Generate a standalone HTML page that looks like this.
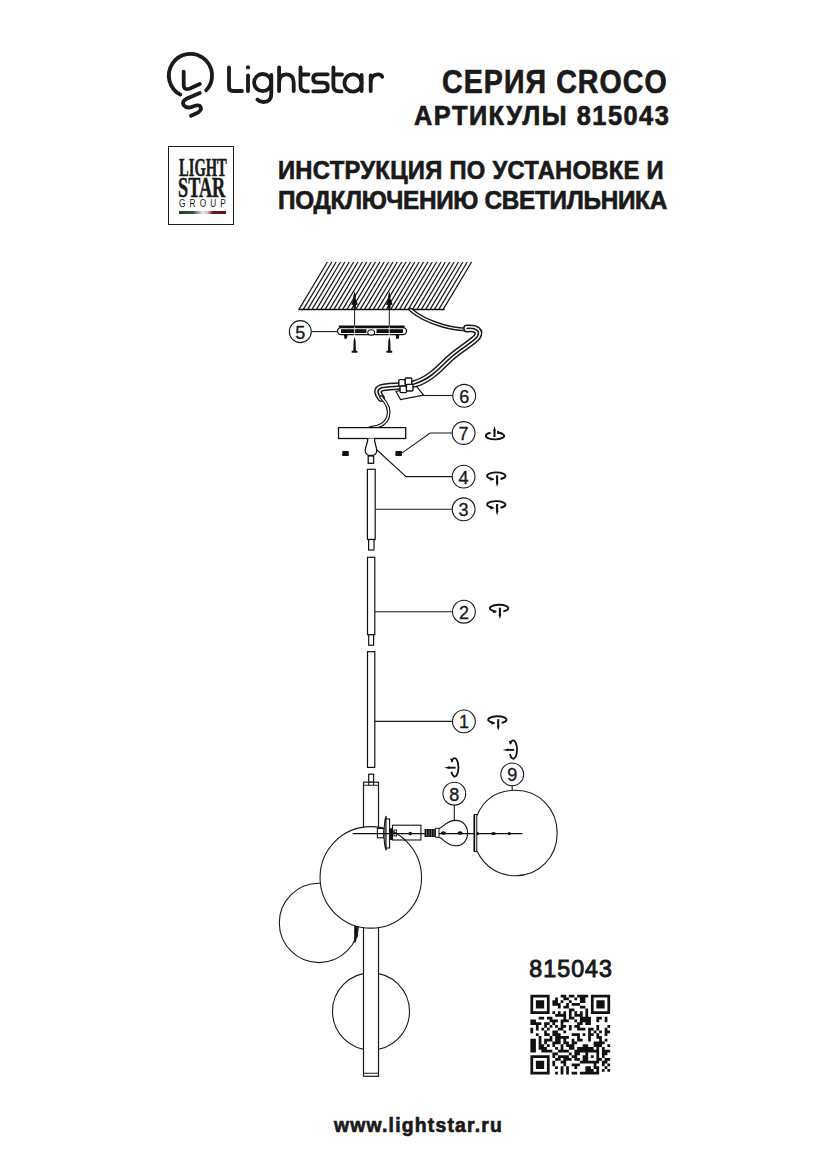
<!DOCTYPE html>
<html><head><meta charset="utf-8">
<style>
html,body{margin:0;padding:0;background:#fff;}
body{width:826px;height:1169px;position:relative;overflow:hidden;font-family:"Liberation Sans",sans-serif;color:#1a1a1a;}
.t{position:absolute;white-space:nowrap;font-weight:bold;line-height:1;transform-origin:0 0;-webkit-text-stroke:0.7px #1a1a1a;}
#group{-webkit-text-stroke:0;}#light,#star{-webkit-text-stroke:0.5px #1a1a1a;}
#h1{left:442.4px;top:66.2px;font-size:32.9px;letter-spacing:1.24px;transform:scaleX(0.868);}
#h2{left:413.7px;top:103px;font-size:26.96px;letter-spacing:1.63px;transform:scaleX(0.939);}
#h3{left:278.4px;top:157.4px;font-size:26.67px;letter-spacing:0.31px;transform:scaleX(0.892);}
#h4{left:278.4px;top:186.8px;font-size:26.52px;letter-spacing:-0.33px;transform:scaleX(0.917);}
#code{left:529.3px;top:957.6px;font-size:23.2px;letter-spacing:1.05px;-webkit-text-stroke:1px #1a1a1a !important;}
#url{left:333.5px;top:1114.5px;font-size:20.41px;letter-spacing:1.27px;transform:scaleX(0.948);}
svg{position:absolute;left:0;top:0;}
#light{left:178.7px;top:154.5px;font-size:25.15px;transform:scaleX(0.58);font-family:"Liberation Serif",serif;}
#star{left:178.1px;top:172.6px;font-size:29.41px;transform:scaleX(0.62);font-family:"Liberation Serif",serif;}
#group{left:178.6px;top:198.5px;font-size:10px;font-weight:normal;letter-spacing:0.5em;transform:scaleX(0.827);}
#box{position:absolute;left:167.8px;top:145.8px;width:66.4px;height:78.8px;border:1.2px solid #1a1a1a;box-sizing:border-box;}
#flag{position:absolute;left:179px;top:211px;width:47px;height:2.8px;background:linear-gradient(90deg,#1d4026 0%,#2e5a36 30%,#e8e8e8 50%,#e0c8c8 60%,#6e1820 72%,#5a1018 100%);}

</style></head><body>
<div class="t" id="h1">СЕРИЯ CROCO</div>
<div class="t" id="h2">АРТИКУЛЫ 815043</div>
<div class="t" id="h3">ИНСТРУКЦИЯ ПО УСТАНОВКЕ И</div>
<div class="t" id="h4">ПОДКЛЮЧЕНИЮ СВЕТИЛЬНИКА</div>
<div id="box"></div>
<div class="t" id="light">LIGHT</div>
<div class="t" id="star">STAR</div>
<div class="t" id="group">GROUP</div>
<div id="flag"></div>
<div class="t" id="code" style="font-weight:normal">815043</div>
<div class="t" id="url">www.lightstar.ru</div>
<svg width="826" height="1169" viewBox="0 0 826 1169">
<!-- logo -->
<g fill="none" stroke="#1a1a1a" stroke-width="3.8" stroke-linecap="round" stroke-linejoin="round">
<path d="M180.3 94.6A21.6 21.6 0 1 1 206.2 90.3"/>
<path d="M183.7 71.7V84.5Q183.7 91 190 88.5L199.8 84"/>
<path d="M199.8 92.9L187 98.5Q181 101.5 184 105.5Q187 109 193 106.5L196 105.5Q201 104.5 201 109Q200 112 196 113.5L191 115.8"/>
<!-- Lightstar -->
<path d="M229 67.5V87Q229 91 233 91H241.9"/>
<path d="M248 75.5V91"/>
<circle cx="248" cy="67.4" r="2.1" fill="#1a1a1a" stroke="none"/>
<circle cx="262.7" cy="82.6" r="8.6"/>
<path d="M271.3 75V94Q271.3 102 263.5 102Q259.5 102 257.4 99.6"/>
<path d="M279.1 67.5V91M279.1 83Q279.1 74.3 286.4 74.3Q293.7 74.3 293.7 83V91"/>
<path d="M300.5 67.5V86Q300.5 91.3 306 91.3H308M300.5 74.5H308.5"/>
<path d="M327.8 74.3H317.5Q313.2 74.3 313.2 78.2Q313.2 82.6 317.5 82.6H323.5Q327.8 82.6 327.8 87Q327.8 91.3 323.5 91.3H313.2"/>
<path d="M333.4 67.5V86Q333.4 91.3 339 91.3H341.5M333.4 74.5H342"/>
<circle cx="353" cy="83" r="8.6"/>
<path d="M361.6 75V91"/>
<path d="M370.7 75.5V91M370.7 83Q370.7 74.3 378 74.3Q381.5 74.3 382.2 76.8"/>
</g>
<!-- ceiling -->
<g fill="none" stroke="#1a1a1a" stroke-width="1.25">
<path d="M327.40 262L299.00 309.4M331.77 262L303.37 309.4M336.14 262L307.74 309.4M340.51 262L312.11 309.4M344.88 262L316.48 309.4M349.25 262L320.85 309.4M353.62 262L325.22 309.4M357.99 262L329.59 309.4M362.36 262L333.96 309.4M366.73 262L338.33 309.4M371.10 262L342.70 309.4M375.47 262L347.07 309.4M379.84 262L351.44 309.4M384.21 262L355.81 309.4M388.58 262L360.18 309.4M392.95 262L364.55 309.4M397.32 262L368.92 309.4M401.69 262L373.29 309.4M406.06 262L377.66 309.4M410.43 262L382.03 309.4M414.80 262L386.40 309.4M419.17 262L390.77 309.4M423.54 262L395.14 309.4M427.91 262L399.51 309.4M432.28 262L403.88 309.4M436.65 262L408.25 309.4M441.02 262L412.62 309.4M445.39 262L416.99 309.4M449.76 262L421.36 309.4M454.13 262L425.73 309.4M458.50 262L430.10 309.4M462.87 262L434.47 309.4M467.24 262L438.84 309.4M471.61 262L443.21 309.4"/>
</g>
<path d="M298.4 309.4H444.6" stroke="#111" stroke-width="1.5"/>

<!-- anchors -->
<g fill="#111">
<path id="anc" d="M354.6 291.3L355.9 296.5L355.7 299L358 304.6L356.1 305L355.6 309H353.6L353.1 305L351.2 304.6L353.5 299L353.3 296.5Z"/>
<use href="#anc" transform="translate(34.7 0)"/>
</g>
<g stroke="#1a1a1a" stroke-width="1" fill="none">
<path d="M354.6 309V325M389.3 309V325"/>
</g>
<!-- bracket -->
<rect x="338.8" y="325.5" width="65.8" height="1.9" fill="#111"/>
<rect x="337.5" y="327.6" width="69" height="7" rx="3.5" fill="#fff" stroke="#111" stroke-width="1.3"/>
<g fill="#111">
<rect x="341" y="329.2" width="25.5" height="3.8"/>
<rect x="376.5" y="329.2" width="26.5" height="3.8"/>
<path d="M343.8 334.5H347.6L347 338.5L344.5 339Z"/>
<path d="M395.6 334.5H399.4L398.8 338.5L396.3 339Z"/>
<path id="scw" d="M354.6 336.5L355.6 341L355.9 350.8H357.5V352.8H351.7V350.8H353.3L353.6 341Z"/>
<use href="#scw" transform="translate(34.7 0)"/>
</g>
<path d="M354.6 327V336M389.3 327V336" stroke="#fff" stroke-width="0.8"/>
<ellipse cx="371.2" cy="332.4" rx="3.4" ry="2.7" fill="#fff" stroke="#111" stroke-width="1.1"/>
<!-- cable -->
<g fill="none" stroke-linecap="round" stroke-linejoin="round">
<path id="c1" d="M410.8 309.8C420 318 430 322 442 325.5C452 328.5 462 329.5 469 329.5" stroke="#1a1a1a" stroke-width="4.2"/>
<path d="M410.8 309.8C420 318 430 322 442 325.5C452 328.5 462 329.5 469 329.5" stroke="#fff" stroke-width="1.3"/>
<path d="M467 328.5C476 327.5 481 331 477 337C472 343 458 350 447 361C437 371 428 380 414 384C402 387 388 386 381 388C376 390 378 394 381 398" stroke="#1a1a1a" stroke-width="7.8"/>
<path d="M467 328.5C476 327.5 481 331 477 337C472 343 458 350 447 361C437 371 428 380 414 384C402 387 388 386 381 388C376 390 378 394 381 398" stroke="#fff" stroke-width="4.8"/>
<path d="M467 328.5C476 327.5 481 331 477 337C472 343 458 350 447 361C437 371 428 380 414 384C402 387 388 386 381 388C376 390 378 394 381 398" stroke="#1a1a1a" stroke-width="1.6"/>
<path d="M381 397C388 404 390 411 388 417C386 423 380 427 370.5 427.8" stroke="#1a1a1a" stroke-width="3.8"/>
<path d="M381 397C388 404 390 411 388 417C386 423 380 427 370.5 427.8" stroke="#fff" stroke-width="1.3"/>
</g>
<!-- connector 6 -->
<path d="M396 391.5L416.5 386.4L423.6 395L400.5 399.5Z" fill="#fff" stroke="#111" stroke-width="1.2"/>
<g fill="#fff" stroke="#111" stroke-width="1.4">
<rect x="398.8" y="379.6" width="6.6" height="6.6" rx="1"/>
<rect x="405.2" y="378" width="6.6" height="6.6" rx="1"/>
<rect x="400" y="386" width="6.6" height="6.6" rx="1"/>
<rect x="406.4" y="384.4" width="6.6" height="6.6" rx="1"/>
</g>
<!-- canopy -->
<g fill="#fff" stroke="#111" stroke-width="1.3">
<rect x="338.5" y="427.6" width="67.2" height="10.9"/>
<path d="M367.8 438.5C368 443 365 447 365.2 451C365.5 454 368 455.5 371 455.5C374 455.5 376.5 454 376.7 451C377 447 374.2 443 374.5 438.5"/>
<rect x="368.2" y="456" width="5.4" height="7.3"/>
</g>
<g fill="#111">
<rect x="342.2" y="451" width="6.6" height="5" rx="0.8"/>
<rect x="395.4" y="451" width="6.6" height="5" rx="0.8"/>
</g>
<!-- leaders and circles -->
<g fill="none" stroke="#1a1a1a" stroke-width="1.1">
<path d="M311.3 331.6H337.6"/>
<path d="M423.6 395.5H452.7"/>
<path d="M401 453.6L430.2 433H452.2"/>
<path d="M377 450L406 476.6H452.2"/>
<path d="M375.2 509.3H452.2"/>
<path d="M374.8 611.7H452.5"/>
<path d="M374.8 721.4H452.5"/>
<path d="M454.3 805.1V820"/>
<path d="M512.2 785.8V790.5"/>
<circle cx="300.3" cy="331.6" r="11"/>
<circle cx="464.2" cy="395.8" r="11.4"/>
<circle cx="463.6" cy="433" r="11.4"/>
<circle cx="463.6" cy="476.6" r="11.4"/>
<circle cx="463.6" cy="509.3" r="11.4"/>
<circle cx="463.9" cy="611.7" r="11.4"/>
<circle cx="463.9" cy="721.4" r="11.4"/>
<circle cx="454.3" cy="793.7" r="11.4"/>
<circle cx="512.2" cy="774.4" r="11.4"/>
</g>
<g font-family="Liberation Sans" font-size="18" fill="#1a1a1a" stroke="#1a1a1a" stroke-width="0.35" text-anchor="middle">
<text x="300.3" y="338.65">5</text>
<text x="464.2" y="402.85">6</text>
<text x="463.6" y="440.05">7</text>
<text x="463.6" y="483.65">4</text>
<text x="463.6" y="516.35">3</text>
<text x="463.9" y="618.75">2</text>
<text x="463.9" y="728.45">1</text>
<text x="454.3" y="800.75">8</text>
<text x="512.2" y="781.45">9</text>
</g>
<!-- tubes -->
<g fill="#fff" stroke="#111" stroke-width="1.2">
<rect x="367.4" y="469.3" width="7.8" height="70.2"/>
<rect x="368.6" y="539.5" width="5.4" height="10.5"/>
<rect x="367.5" y="557.3" width="7.3" height="77.4"/>
<rect x="368.7" y="634.7" width="4.9" height="10.5"/>
<rect x="367.5" y="651.7" width="7.3" height="115.7"/>
<rect x="368.7" y="774.2" width="4.9" height="8"/>
</g>
<!-- lower globes -->
<g fill="#fff" stroke="#1a1a1a" stroke-width="1.1">
<circle cx="319" cy="922.9" r="39.7"/>
<circle cx="371" cy="1011.4" r="38.5"/>
<rect x="363.5" y="782.2" width="15" height="294.1" stroke-width="1.2"/>
<path d="M363.5 785.3H378.5M363.5 1073.3H378.5" stroke-width="1.1"/>
<path d="M368.7 782.2V785.3M373.6 782.2V785.3" stroke-width="1.1"/>
<circle cx="370.8" cy="877.4" r="50.75"/>
</g>
<path d="M354.2 926H357.8V936.5L356.6 938.5L356 941.5Q355 943.5 353.8 942L354.2 937Z" fill="#111"/>
<!-- axis parts -->
<g fill="#fff" stroke="#111" stroke-width="1.1">
<rect x="377.4" y="828.4" width="6.4" height="9.4"/>
<path d="M386.2 816C383.5 822 383.2 844 386.2 850.2Z"/>
<rect x="386" y="819" width="3.6" height="29"/>
</g>
<rect x="392.5" y="825.2" width="28.4" height="14.8" fill="none" stroke="#111" stroke-width="1.1"/>
<path d="M352.7 833.6H522.5" stroke="#111" stroke-width="1.1"/>
<g fill="#111">
<rect x="389" y="828.3" width="3.5" height="11.7"/>
<rect x="424.5" y="829" width="11" height="8"/>
<circle cx="410.3" cy="833.6" r="1.8"/>
<circle cx="401.9" cy="833.6" r="0.8"/>
<ellipse cx="443.4" cy="833" rx="2.6" ry="1.7"/>
<ellipse cx="460.1" cy="833" rx="2.6" ry="1.7"/>
<circle cx="477.5" cy="833.6" r="1.6"/>
<ellipse cx="493.5" cy="833.6" rx="2.4" ry="1.6"/>
<circle cx="509.3" cy="833.6" r="1.6"/>
</g>
<path d="M426.5 829.5V836.5M429 829.5V836.5M431.5 829.5V836.5M434 829.5V836.5" stroke="#888" stroke-width="0.7"/>
<rect x="394" y="830" width="2.6" height="6" fill="none" stroke="#111" stroke-width="0.9"/>
<path d="M435.4 828.3H439V837.3H435.4Z" fill="#fff" stroke="#111" stroke-width="1"/>
<path d="M439 828.5C444 827 446 820.4 456 820.4C463 820.4 467.6 826 467.6 833C467.6 840 463 845.8 456 845.8C446 845.8 444 838.5 439 837.3" fill="none" stroke="#111" stroke-width="1.1"/>
<rect x="474.2" y="814.5" width="2.6" height="37.1" fill="#fff" stroke="#111" stroke-width="1"/>
<path d="M474.4 815V851" stroke="#111" stroke-width="1.6"/>
<path d="M477 815.5C485 797 500 790.3 515.5 790.3C539 790.3 557.2 809 557.2 833C557.2 857 539 875.8 515.5 875.8C500 875.8 485 868 477 851" fill="none" stroke="#1a1a1a" stroke-width="1.1"/>
<!-- icons -->
<defs>
<g id="scr">
<path d="M4 3.1A9.2 3.5 0 1 0 -3.2 3.3" fill="none" stroke="#111" stroke-width="1.9"/>
<path d="M-6.5 1.2L-2.2 3.5L-6.2 4.9Z" fill="#111"/>
<path d="M0.6 -0.6V7.5" stroke="#111" stroke-width="2.1"/>
<path d="M-0.7 6.5L0.6 11L1.9 6.5Z" fill="#111"/>
</g>
<g id="side">
<path d="M-3 -5.4A3.8 9.2 0 1 1 -3.3 4.6" fill="none" stroke="#111" stroke-width="1.8"/>
<path d="M-4.6 -8.6L-2.8 -4.4L-1.2 -8Z" fill="#111"/>
<path d="M1 0.5H-6" stroke="#111" stroke-width="1.9"/>
<path d="M-5 -0.9L-10.5 0.5L-5 1.9Z" fill="#111"/>
</g>
</defs>
<use href="#scr" transform="translate(496.5 475.9)"/>
<use href="#scr" transform="translate(496.5 504.6)"/>
<use href="#scr" transform="translate(499.3 608.3)"/>
<use href="#scr" transform="translate(497.6 719.8)"/>
<g transform="translate(495.5 435.8)">
<path d="M-4.9 -3A9.2 3.5 0 1 0 2 -3.3" fill="none" stroke="#111" stroke-width="1.9"/>
<path d="M1.5 -5.3L6.2 -3.1L2 -1.7Z" fill="#111"/>
<path d="M-1 1.2V-6" stroke="#111" stroke-width="2.1"/>
<path d="M-2.3 -5L-1 -10L0.3 -5Z" fill="#111"/>
</g>
<use href="#side" transform="translate(454.6 767.2)"/>
<use href="#side" transform="translate(513.2 749.4)"/>
<!-- QR -->
<path fill="#111" d="M530.40 994.70h19.25v2.75h-19.25zM560.65 994.70h5.50v2.75h-5.50zM568.90 994.70h5.50v2.75h-5.50zM577.15 994.70h11.00v2.75h-11.00zM590.90 994.70h19.25v2.75h-19.25zM530.40 997.45h2.75v2.75h-2.75zM546.90 997.45h2.75v2.75h-2.75zM555.15 997.45h2.75v2.75h-2.75zM563.40 997.45h5.50v2.75h-5.50zM574.40 997.45h2.75v2.75h-2.75zM579.90 997.45h5.50v2.75h-5.50zM590.90 997.45h2.75v2.75h-2.75zM607.40 997.45h2.75v2.75h-2.75zM530.40 1000.20h2.75v2.75h-2.75zM535.90 1000.20h8.25v2.75h-8.25zM546.90 1000.20h2.75v2.75h-2.75zM552.40 1000.20h5.50v2.75h-5.50zM560.65 1000.20h2.75v2.75h-2.75zM568.90 1000.20h2.75v2.75h-2.75zM579.90 1000.20h5.50v2.75h-5.50zM590.90 1000.20h2.75v2.75h-2.75zM596.40 1000.20h8.25v2.75h-8.25zM607.40 1000.20h2.75v2.75h-2.75zM530.40 1002.95h2.75v2.75h-2.75zM535.90 1002.95h8.25v2.75h-8.25zM546.90 1002.95h2.75v2.75h-2.75zM552.40 1002.95h8.25v2.75h-8.25zM566.15 1002.95h2.75v2.75h-2.75zM571.65 1002.95h8.25v2.75h-8.25zM590.90 1002.95h2.75v2.75h-2.75zM596.40 1002.95h8.25v2.75h-8.25zM607.40 1002.95h2.75v2.75h-2.75zM530.40 1005.70h2.75v2.75h-2.75zM535.90 1005.70h8.25v2.75h-8.25zM546.90 1005.70h2.75v2.75h-2.75zM557.90 1005.70h2.75v2.75h-2.75zM563.40 1005.70h5.50v2.75h-5.50zM579.90 1005.70h5.50v2.75h-5.50zM590.90 1005.70h2.75v2.75h-2.75zM596.40 1005.70h8.25v2.75h-8.25zM607.40 1005.70h2.75v2.75h-2.75zM530.40 1008.45h2.75v2.75h-2.75zM546.90 1008.45h2.75v2.75h-2.75zM568.90 1008.45h5.50v2.75h-5.50zM585.40 1008.45h2.75v2.75h-2.75zM590.90 1008.45h2.75v2.75h-2.75zM607.40 1008.45h2.75v2.75h-2.75zM530.40 1011.20h19.25v2.75h-19.25zM552.40 1011.20h2.75v2.75h-2.75zM557.90 1011.20h2.75v2.75h-2.75zM563.40 1011.20h2.75v2.75h-2.75zM568.90 1011.20h2.75v2.75h-2.75zM574.40 1011.20h2.75v2.75h-2.75zM579.90 1011.20h2.75v2.75h-2.75zM585.40 1011.20h2.75v2.75h-2.75zM590.90 1011.20h19.25v2.75h-19.25zM555.15 1013.95h11.00v2.75h-11.00zM568.90 1013.95h2.75v2.75h-2.75zM574.40 1013.95h8.25v2.75h-8.25zM585.40 1013.95h2.75v2.75h-2.75zM538.65 1016.70h5.50v2.75h-5.50zM546.90 1016.70h5.50v2.75h-5.50zM563.40 1016.70h2.75v2.75h-2.75zM568.90 1016.70h5.50v2.75h-5.50zM579.90 1016.70h11.00v2.75h-11.00zM596.40 1016.70h5.50v2.75h-5.50zM604.65 1016.70h2.75v2.75h-2.75zM530.40 1019.45h5.50v2.75h-5.50zM549.65 1019.45h8.25v2.75h-8.25zM560.65 1019.45h8.25v2.75h-8.25zM574.40 1019.45h2.75v2.75h-2.75zM579.90 1019.45h11.00v2.75h-11.00zM596.40 1019.45h2.75v2.75h-2.75zM604.65 1019.45h2.75v2.75h-2.75zM530.40 1022.20h11.00v2.75h-11.00zM544.15 1022.20h5.50v2.75h-5.50zM552.40 1022.20h2.75v2.75h-2.75zM560.65 1022.20h2.75v2.75h-2.75zM577.15 1022.20h5.50v2.75h-5.50zM585.40 1022.20h5.50v2.75h-5.50zM535.90 1024.95h2.75v2.75h-2.75zM544.15 1024.95h2.75v2.75h-2.75zM549.65 1024.95h2.75v2.75h-2.75zM555.15 1024.95h2.75v2.75h-2.75zM560.65 1024.95h5.50v2.75h-5.50zM568.90 1024.95h2.75v2.75h-2.75zM574.40 1024.95h5.50v2.75h-5.50zM596.40 1024.95h2.75v2.75h-2.75zM607.40 1024.95h2.75v2.75h-2.75zM530.40 1027.70h2.75v2.75h-2.75zM535.90 1027.70h2.75v2.75h-2.75zM541.40 1027.70h2.75v2.75h-2.75zM546.90 1027.70h2.75v2.75h-2.75zM557.90 1027.70h5.50v2.75h-5.50zM568.90 1027.70h2.75v2.75h-2.75zM577.15 1027.70h8.25v2.75h-8.25zM588.15 1027.70h5.50v2.75h-5.50zM596.40 1027.70h2.75v2.75h-2.75zM604.65 1027.70h2.75v2.75h-2.75zM530.40 1030.45h2.75v2.75h-2.75zM544.15 1030.45h2.75v2.75h-2.75zM552.40 1030.45h5.50v2.75h-5.50zM563.40 1030.45h2.75v2.75h-2.75zM588.15 1030.45h2.75v2.75h-2.75zM593.65 1030.45h2.75v2.75h-2.75zM599.15 1030.45h2.75v2.75h-2.75zM604.65 1030.45h5.50v2.75h-5.50zM535.90 1033.20h2.75v2.75h-2.75zM544.15 1033.20h5.50v2.75h-5.50zM552.40 1033.20h8.25v2.75h-8.25zM571.65 1033.20h8.25v2.75h-8.25zM582.65 1033.20h2.75v2.75h-2.75zM588.15 1033.20h5.50v2.75h-5.50zM596.40 1033.20h2.75v2.75h-2.75zM604.65 1033.20h2.75v2.75h-2.75zM538.65 1035.95h2.75v2.75h-2.75zM549.65 1035.95h2.75v2.75h-2.75zM555.15 1035.95h13.75v2.75h-13.75zM577.15 1035.95h2.75v2.75h-2.75zM588.15 1035.95h2.75v2.75h-2.75zM596.40 1035.95h5.50v2.75h-5.50zM530.40 1038.70h5.50v2.75h-5.50zM538.65 1038.70h2.75v2.75h-2.75zM544.15 1038.70h8.25v2.75h-8.25zM555.15 1038.70h5.50v2.75h-5.50zM563.40 1038.70h2.75v2.75h-2.75zM571.65 1038.70h2.75v2.75h-2.75zM577.15 1038.70h5.50v2.75h-5.50zM588.15 1038.70h2.75v2.75h-2.75zM599.15 1038.70h2.75v2.75h-2.75zM604.65 1038.70h2.75v2.75h-2.75zM530.40 1041.45h5.50v2.75h-5.50zM538.65 1041.45h2.75v2.75h-2.75zM544.15 1041.45h2.75v2.75h-2.75zM552.40 1041.45h8.25v2.75h-8.25zM563.40 1041.45h5.50v2.75h-5.50zM571.65 1041.45h5.50v2.75h-5.50zM593.65 1041.45h11.00v2.75h-11.00zM530.40 1044.20h5.50v2.75h-5.50zM538.65 1044.20h5.50v2.75h-5.50zM546.90 1044.20h2.75v2.75h-2.75zM552.40 1044.20h2.75v2.75h-2.75zM560.65 1044.20h2.75v2.75h-2.75zM566.15 1044.20h8.25v2.75h-8.25zM582.65 1044.20h5.50v2.75h-5.50zM593.65 1044.20h8.25v2.75h-8.25zM607.40 1044.20h2.75v2.75h-2.75zM530.40 1046.95h5.50v2.75h-5.50zM538.65 1046.95h8.25v2.75h-8.25zM555.15 1046.95h2.75v2.75h-2.75zM560.65 1046.95h2.75v2.75h-2.75zM568.90 1046.95h5.50v2.75h-5.50zM577.15 1046.95h16.50v2.75h-16.50zM596.40 1046.95h2.75v2.75h-2.75zM601.90 1046.95h2.75v2.75h-2.75zM530.40 1049.70h5.50v2.75h-5.50zM541.40 1049.70h11.00v2.75h-11.00zM557.90 1049.70h11.00v2.75h-11.00zM574.40 1049.70h24.75v2.75h-24.75zM601.90 1049.70h8.25v2.75h-8.25zM552.40 1052.45h5.50v2.75h-5.50zM568.90 1052.45h2.75v2.75h-2.75zM574.40 1052.45h5.50v2.75h-5.50zM585.40 1052.45h2.75v2.75h-2.75zM596.40 1052.45h2.75v2.75h-2.75zM601.90 1052.45h5.50v2.75h-5.50zM530.40 1055.20h19.25v2.75h-19.25zM552.40 1055.20h2.75v2.75h-2.75zM557.90 1055.20h11.00v2.75h-11.00zM571.65 1055.20h5.50v2.75h-5.50zM582.65 1055.20h5.50v2.75h-5.50zM590.90 1055.20h2.75v2.75h-2.75zM596.40 1055.20h2.75v2.75h-2.75zM601.90 1055.20h2.75v2.75h-2.75zM530.40 1057.95h2.75v2.75h-2.75zM546.90 1057.95h2.75v2.75h-2.75zM555.15 1057.95h5.50v2.75h-5.50zM563.40 1057.95h8.25v2.75h-8.25zM574.40 1057.95h5.50v2.75h-5.50zM582.65 1057.95h5.50v2.75h-5.50zM596.40 1057.95h5.50v2.75h-5.50zM604.65 1057.95h5.50v2.75h-5.50zM530.40 1060.70h2.75v2.75h-2.75zM535.90 1060.70h8.25v2.75h-8.25zM546.90 1060.70h2.75v2.75h-2.75zM552.40 1060.70h2.75v2.75h-2.75zM560.65 1060.70h5.50v2.75h-5.50zM579.90 1060.70h19.25v2.75h-19.25zM601.90 1060.70h5.50v2.75h-5.50zM530.40 1063.45h2.75v2.75h-2.75zM535.90 1063.45h8.25v2.75h-8.25zM546.90 1063.45h2.75v2.75h-2.75zM552.40 1063.45h2.75v2.75h-2.75zM563.40 1063.45h2.75v2.75h-2.75zM571.65 1063.45h8.25v2.75h-8.25zM593.65 1063.45h2.75v2.75h-2.75zM601.90 1063.45h2.75v2.75h-2.75zM607.40 1063.45h2.75v2.75h-2.75zM530.40 1066.20h2.75v2.75h-2.75zM535.90 1066.20h8.25v2.75h-8.25zM546.90 1066.20h2.75v2.75h-2.75zM555.15 1066.20h2.75v2.75h-2.75zM560.65 1066.20h2.75v2.75h-2.75zM566.15 1066.20h2.75v2.75h-2.75zM574.40 1066.20h2.75v2.75h-2.75zM585.40 1066.20h5.50v2.75h-5.50zM593.65 1066.20h5.50v2.75h-5.50zM604.65 1066.20h2.75v2.75h-2.75zM530.40 1068.95h2.75v2.75h-2.75zM546.90 1068.95h2.75v2.75h-2.75zM560.65 1068.95h2.75v2.75h-2.75zM566.15 1068.95h2.75v2.75h-2.75zM585.40 1068.95h8.25v2.75h-8.25zM596.40 1068.95h2.75v2.75h-2.75zM601.90 1068.95h2.75v2.75h-2.75zM607.40 1068.95h2.75v2.75h-2.75zM530.40 1071.70h19.25v2.75h-19.25zM555.15 1071.70h2.75v2.75h-2.75zM560.65 1071.70h2.75v2.75h-2.75zM566.15 1071.70h2.75v2.75h-2.75zM571.65 1071.70h5.50v2.75h-5.50zM579.90 1071.70h19.25v2.75h-19.25z"/>
</svg>
</body></html>
